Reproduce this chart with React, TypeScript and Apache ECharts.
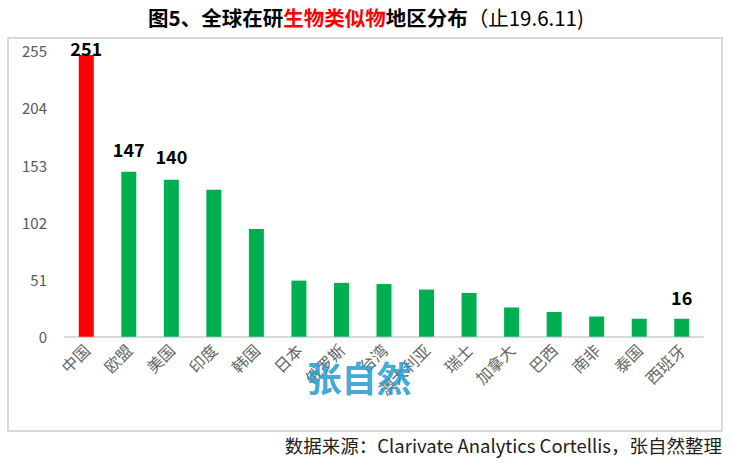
import React, { useEffect, useRef } from "react";
import * as echarts from "echarts";

const categories = ["中国", "欧盟", "美国", "印度", "韩国", "日本", "俄罗斯", "台湾", "澳大利亚", "瑞士", "加拿大", "巴西", "南非", "泰国", "西班牙"];
const values = [251, 147, 140, 131, 96, 50, 48, 47, 42, 39, 26, 22, 18, 16, 16];
const labelled = [251, 147, 140, 0, 0, 0, 0, 0, 0, 0, 0, 0, 0, 0, 16];
const labelGap = [-2, 14, 15, 0, 0, 0, 0, 0, 0, 0, 0, 0, 0, 0, 13];
const yTicks = [0, 51, 102, 153, 204, 255];

const FONT = "'Noto Sans CJK SC', 'Noto Sans', sans-serif";

export default function App() {
  const ref = useRef<HTMLDivElement>(null);
  useEffect(() => {
    if (!ref.current) return;
    const chart = echarts.init(ref.current, null, { renderer: "svg" });
    const data = values.map((v, i) => ({
      value: v,
      itemStyle: { color: i === 0 ? "#ff0000" : "#00b050" },
      label: {
        show: labelled[i] > 0,
        position: "top",
        distance: labelGap[i],
        formatter: String(v),
        color: "#000",
        fontWeight: "bold",
        fontSize: 18,
        fontFamily: FONT,
      },
    }));
    chart.setOption({
      animation: false,
      backgroundColor: "#fff",
      title: {
        left: "center",
        top: 2,
        text: "{b|图5、全球在研}{r|生物类似物}{b|地区分布}{n|（止19.6.11)}",
        textStyle: {
          rich: {
            b: { fontSize: 20.5, fontWeight: "bold", color: "#000", fontFamily: FONT },
            r: { fontSize: 20.5, fontWeight: "bold", color: "#ff0000", fontFamily: FONT },
            n: { fontSize: 20.5, fontWeight: "normal", color: "#000", fontFamily: FONT },
          },
        },
      },
      grid: { left: 65, right: 29, top: 50.6, bottom: 126.3, containLabel: false },
      xAxis: {
        type: "category",
        data: categories,
        axisLine: { show: true, lineStyle: { color: "#d9d9d9", width: 2 } },
        axisTick: { show: false },
        axisLabel: {
          rotate: 45,
          color: "#666666",
          fontSize: 16,
          fontFamily: FONT,
          interval: 0,
          margin: 10,
        },
      },
      yAxis: {
        type: "value",
        min: yTicks[0],
        max: yTicks[yTicks.length - 1],
        interval: 51,
        axisLine: { show: false },
        axisTick: { show: false },
        splitLine: { show: false },
        axisLabel: { color: "#595959", fontSize: 15, fontFamily: FONT, margin: 18 },
      },
      series: [
        {
          type: "bar",
          data,
          barWidth: 15,
        },
      ],
      graphic: [
        {
          type: "rect",
          shape: { x: 8, y: 38, width: 714, height: 393 },
          style: { fill: "none", stroke: "#d9d9d9", lineWidth: 2 },
          z: -1,
        },
        {
          type: "text",
          x: 359,
          y: 376,
          style: {
            text: "张自然",
            fill: "#2b9fd1",
            fontSize: 35,
            fontWeight: "bold",
            fontFamily: "'Noto Sans CJK SC', serif",
            align: "center",
            verticalAlign: "middle",
            opacity: 0.9,
          },
          z: 10,
        },
        {
          type: "text",
          right: 10,
          top: 436,
          style: {
            text: "数据来源：Clarivate Analytics Cortellis，张自然整理",
            fill: "#222",
            fontSize: 18.5,
            fontFamily: FONT,
          },
        },
      ],
    });
    return () => chart.dispose();
  }, []);
  return <div ref={ref} style={{ position: "fixed", left: 0, top: 0, width: 732, height: 463 }} />;
}
